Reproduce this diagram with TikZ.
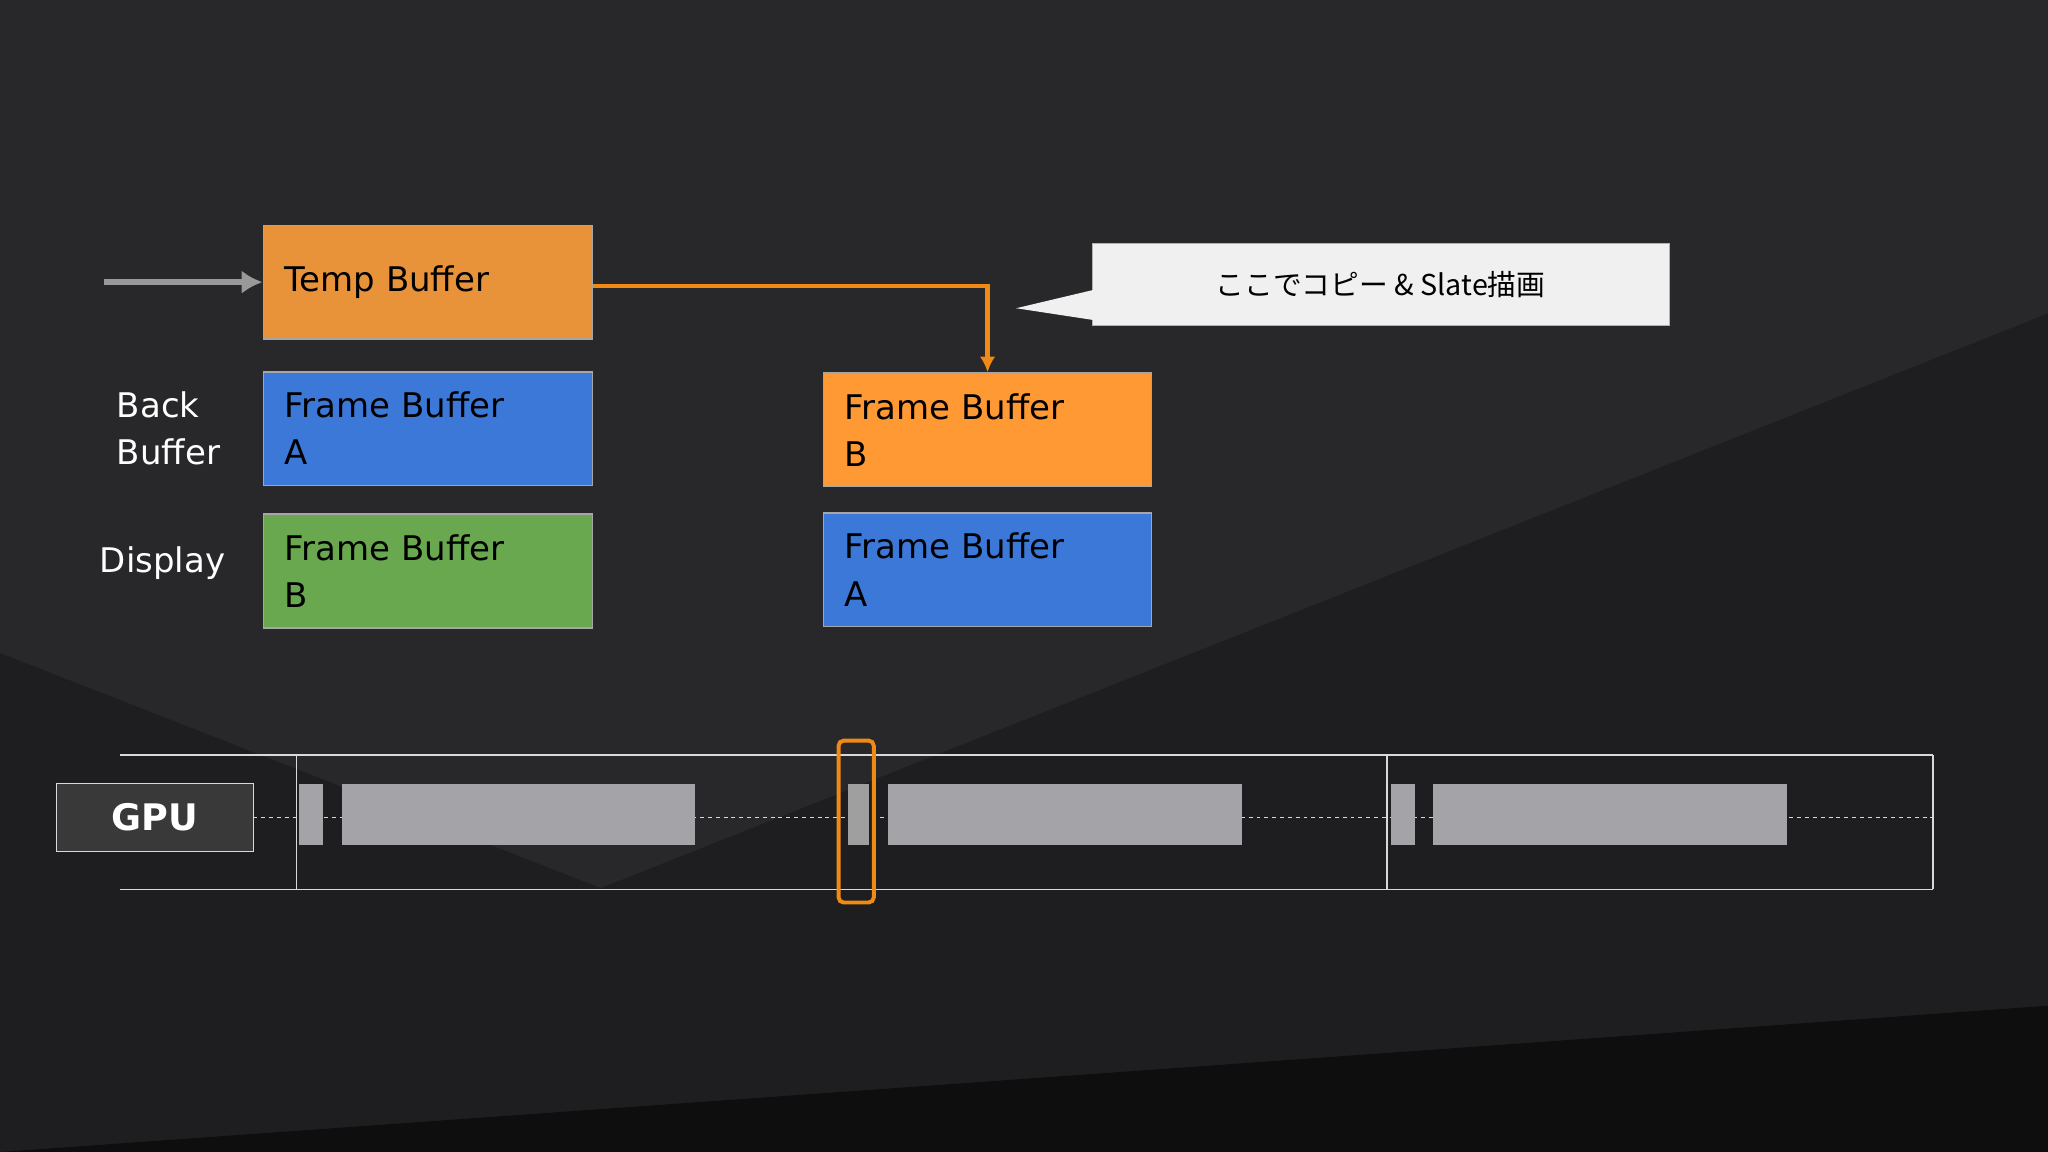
\documentclass[tikz,border=0pt]{standalone}
\usepackage{fontspec}
\setmainfont{DejaVu Sans}
\newfontfamily\jpfont{Noto Sans CJK JP}
\usetikzlibrary{arrows.meta}
\begin{document}
\begin{tikzpicture}[x=1pt,y=-1pt,
  buf/.style={draw=gray!70, line width=1.2pt, anchor=north west, inner sep=0pt, text width=#1, align=left, font=\fontsize{26}{36}\selectfont, text=black},
  lab/.style={text=white, font=\fontsize{26}{36}\selectfont, align=left}]
\definecolor{bg}{HTML}{28282A}
\definecolor{bg2}{HTML}{1E1E20}
\definecolor{bg3}{HTML}{0E0E0F}
\definecolor{tempc}{HTML}{E8933A}
\definecolor{bluec}{HTML}{3C78D8}
\definecolor{greenc}{HTML}{6AA84F}
\definecolor{orc}{HTML}{FF9933}
\definecolor{barc}{HTML}{A4A3A8}
\definecolor{oline}{HTML}{F08A14}
\useasboundingbox (0,0) rectangle (1568,882);
\fill[bg] (0,0) rectangle (1568,882);
\fill[bg2] (0,500) -- (460,680) -- (1568,240) -- (1568,882) -- (0,882) -- cycle;
\fill[bg3] (0,882) -- (1568,770) -- (1568,882) -- cycle;
% buffers
\node[buf=252pt, fill=tempc, minimum height=87pt] (temp) at (201,172) {\hspace*{16pt}Temp Buffer};
\node[buf=252pt, fill=bluec, minimum height=87pt] (fa) at (201,284) {\hspace*{16pt}Frame Buffer\\\hspace*{16pt}A};
\node[buf=252pt, fill=greenc, minimum height=87pt] (fb) at (201,393) {\hspace*{16pt}Frame Buffer\\\hspace*{16pt}B};
\node[buf=251pt, fill=orc, minimum height=87pt] (rb) at (630,285) {\hspace*{16pt}Frame Buffer\\\hspace*{16pt}B};
\node[buf=251pt, fill=bluec, minimum height=87pt] (ra) at (630,392) {\hspace*{16pt}Frame Buffer\\\hspace*{16pt}A};
\node[lab, anchor=west] (bb) at (86,328) {Back\\Buffer};
\node[lab, anchor=west] (disp) at (73,431) {Display};
% arrows
\coordinate (s) at (80,216);
\draw[gray!80, line width=5pt, -{Latex[length=16pt,width=18pt]}] (s) -- (temp.west |- s);
\draw[oline, line width=3.5pt, -{Latex[length=12pt,width=12pt]}] ([yshift=-3pt]temp.east) -| (rb.north);
% callout
\fill[gray!12, draw=gray!60] (836,186) rectangle (1278,249);
\fill[gray!12] (837,222) -- (778,236) -- (837,245) -- cycle;
\node[font=\fontsize{22}{26}\selectfont\jpfont, text=black] (call) at (1057,218) {ここでコピー \& Slate描画};
% timeline
\draw[white!85!black, line width=1pt] (92,578) -- (1480,578) (92,681) -- (1480,681);
\draw[white!85!black, line width=1pt] (227,578) -- (227,681) (1062,578) -- (1062,681) (1480,578) -- (1480,681);
\draw[white!85!black, dashed, line width=1pt] (194,626) -- (1480,626);
\foreach \a/\b in {229/247,262/532,680/951,1065/1083,1097/1368}
  \fill[barc] (\a,600) rectangle (\b,647);
\fill[gray!75] (649,600) rectangle (665,647);
\draw[oline, line width=3pt, rounded corners=4pt] (642,567) rectangle (669,691);
\node[draw=white!85!black, fill=gray!45!black, line width=1pt, minimum width=151pt, minimum height=52pt, text=white, font=\fontsize{28}{32}\selectfont\bfseries] (gpu) at (118.5,626) {GPU};
\end{tikzpicture}
\end{document}
